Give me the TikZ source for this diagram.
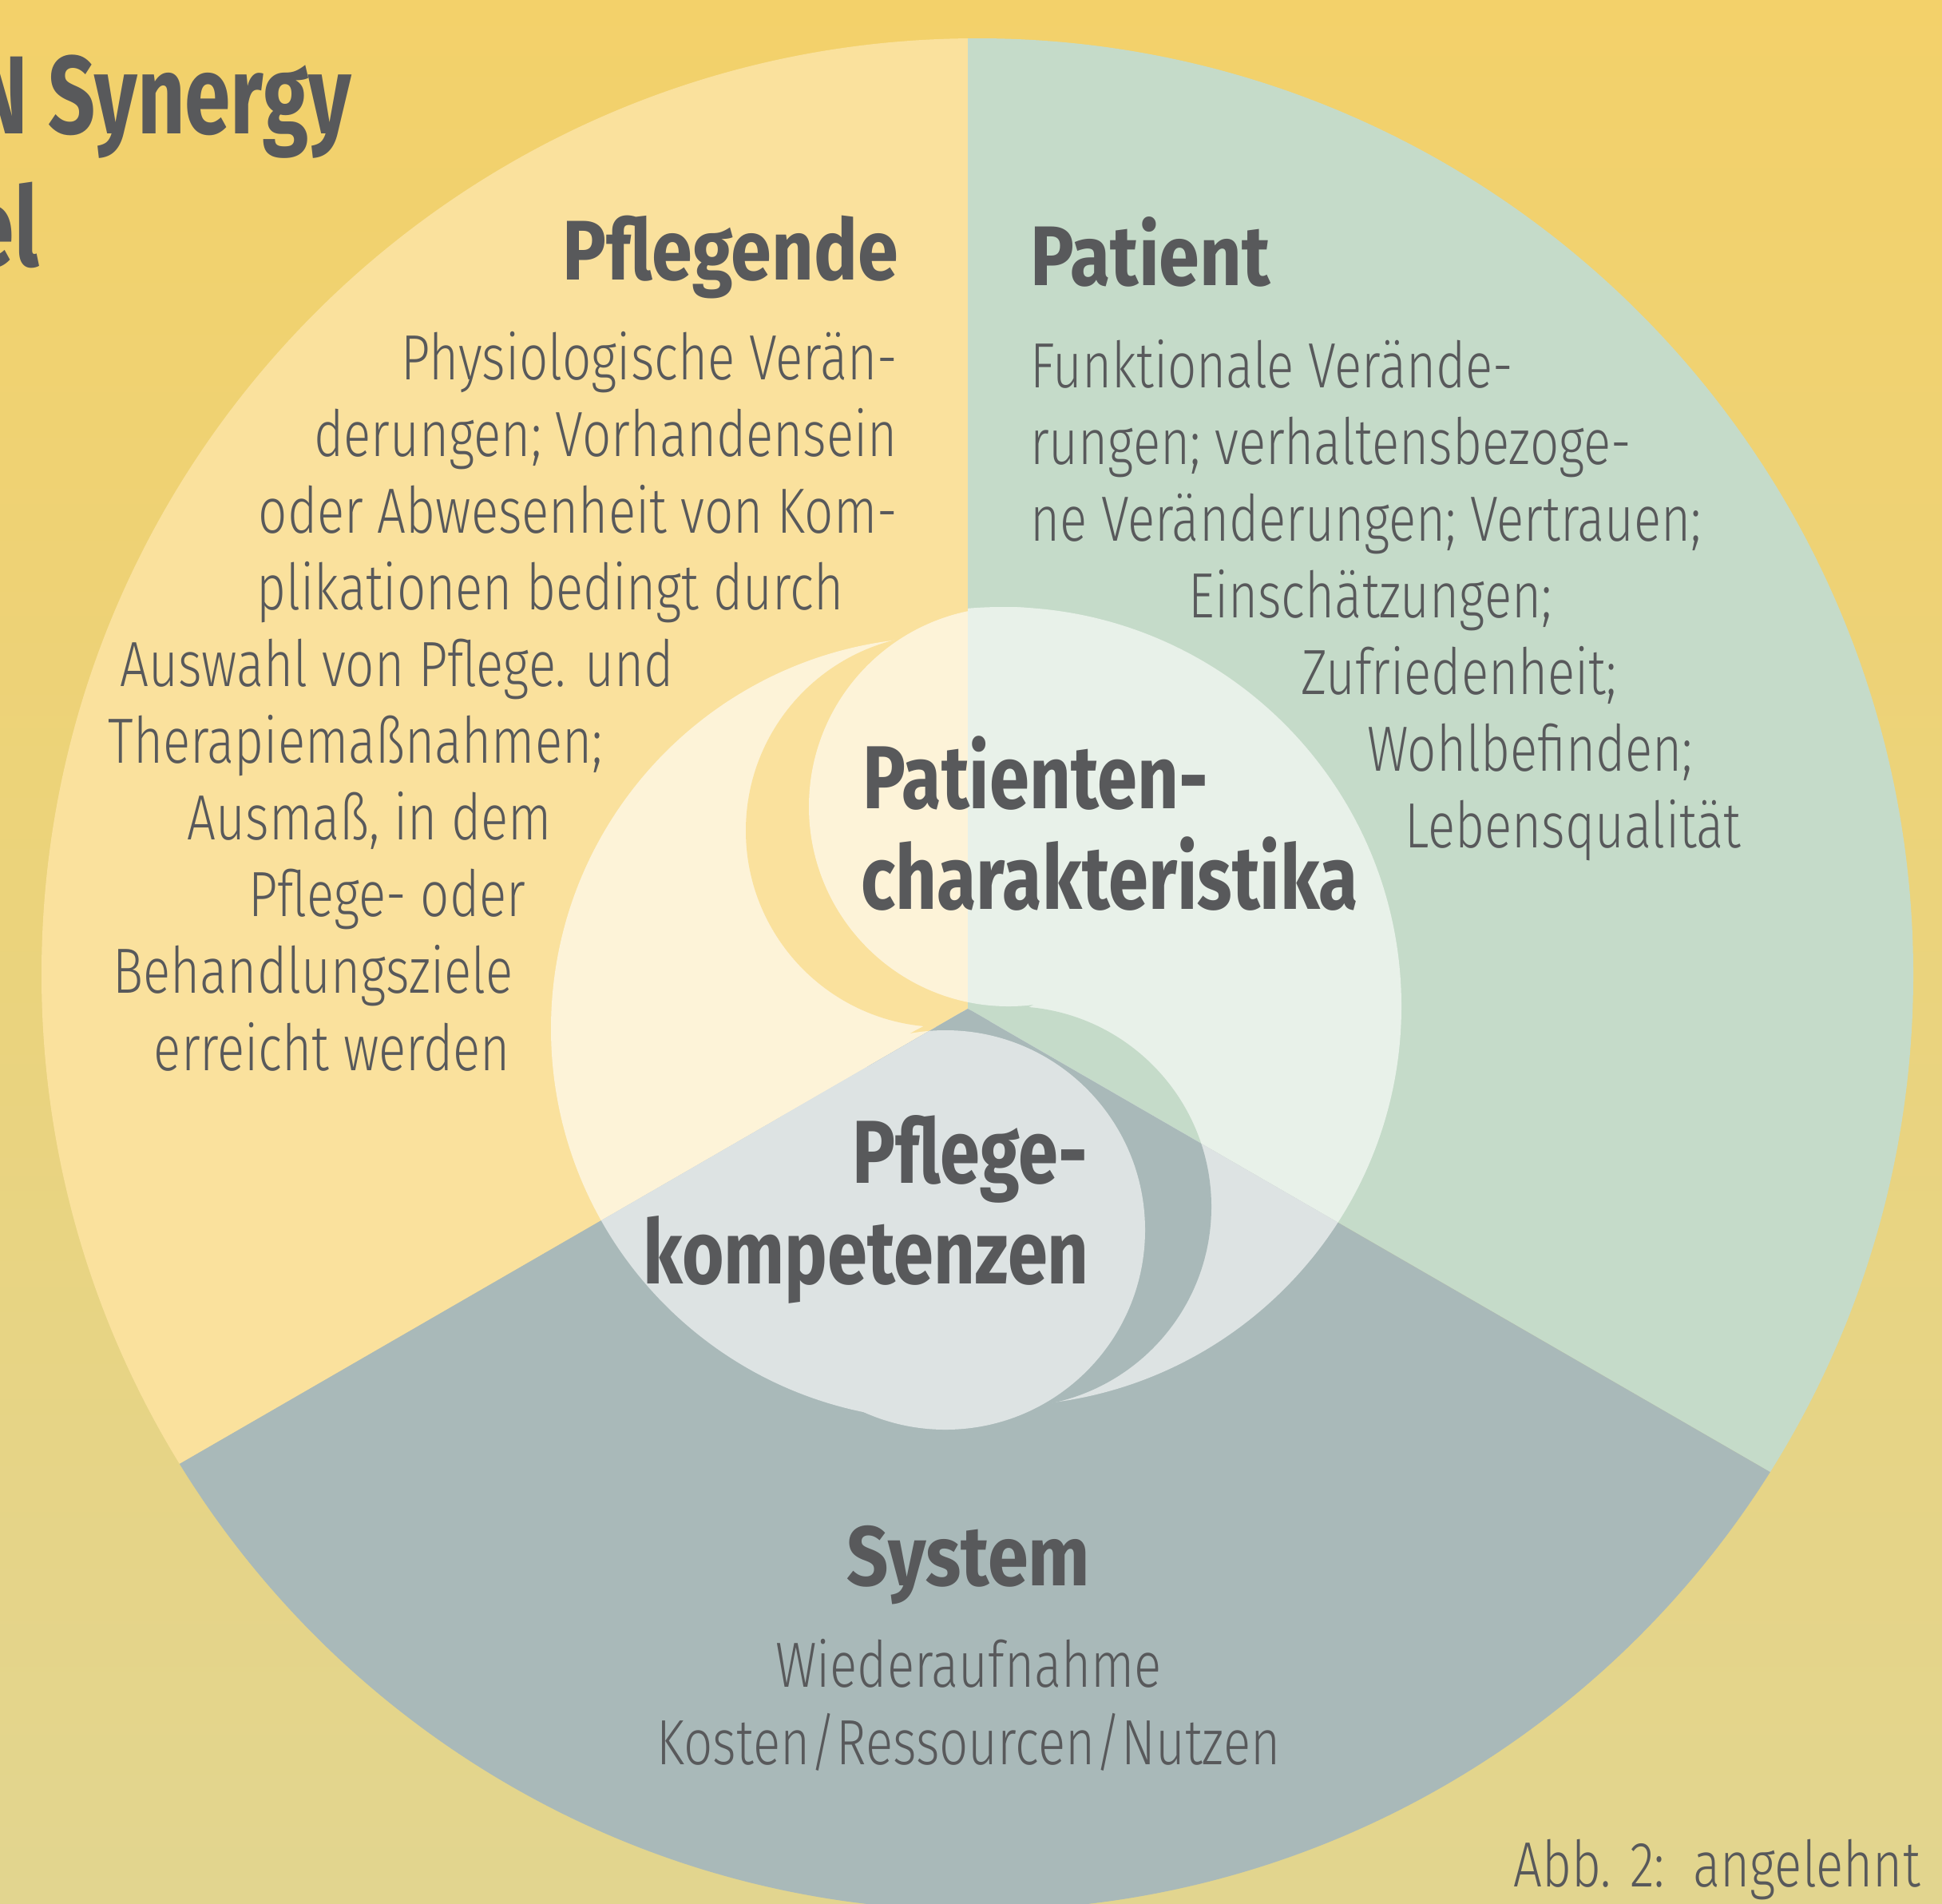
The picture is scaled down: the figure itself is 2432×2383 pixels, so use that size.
\documentclass[tikz,border=0pt]{standalone}
\usepackage{fontspec}
\IfFontExistsTF{Fira Sans Light}
 {\newfontfamily\lightf{Fira Sans Light}[FakeStretch=0.795]}
 {\newfontfamily\lightf{Fira Sans}[FakeStretch=0.795]}
\newfontfamily\boldf{Fira Sans}[FakeStretch=0.805]
\newfontfamily\headf{Fira Sans}[FakeStretch=0.865]
\newfontfamily\titlef{Fira Sans}[FakeStretch=0.745]
\definecolor{bgtop}{HTML}{F3D16A}
\definecolor{bgbot}{HTML}{E2D58F}
\definecolor{secY}{HTML}{FAE19D}
\definecolor{secG}{HTML}{C5DBC9}
\definecolor{secS}{HTML}{A9B9B9}
\definecolor{txt}{HTML}{58595B}
\colorlet{ovY}{secY!40!white}
\colorlet{ovG}{secG!40!white}
\colorlet{ovS}{secS!40!white}
\newcommand\paintoverlay[2]{%
  \begin{scope}\clip (-100,-100) rectangle (1212,3000); \fill[#1] (1180,1288) circle (490pt);\end{scope}
  \begin{scope}\clip (1212,-100) rectangle (3000,3000); \fill[#1] (1255,1260) circle (500pt);\end{scope}
  \fill[#2] (1180,1040) circle (246pt);
  \fill[#2] (1266,1511) circle (251pt);
  \fill[#1] (1263,1010) circle (250pt);
  \fill[#1] (1184,1540) circle (250pt);
}
\tikzset{
  body/.style={font=\lightf\fontsize{80}{96}\selectfont, text=txt, inner sep=0pt, anchor=base},
  head/.style={font=\headf\bfseries\fontsize{106}{120}\selectfont, text=txt, inner sep=0pt, anchor=base},
  core/.style={font=\boldf\bfseries\fontsize{112}{126}\selectfont, text=txt, inner sep=0pt, anchor=base},
  titletext/.style={font=\titlef\bfseries\fontsize{139}{160}\selectfont, text=txt, inner sep=0pt, anchor=base east},
}
\begin{document}
\begin{tikzpicture}[x=1pt,y=-1pt]
\useasboundingbox (0,0) rectangle (2432,2383);
\clip (0,0) rectangle (2432,2383);
\shade[top color=bgtop, bottom color=bgbot] (0,0) rectangle (2432,2383);
% sectors
\begin{scope}
  \clip (1224,1220) circle (1172pt);
  \fill[secY] (1212,1263) -- (1212,-3000) -- (-3000,-3000) -- (-1386,2763) -- cycle;
  \fill[secG] (1212,1263) -- (1212,-3000) -- (5000,-3000) -- (3810,2763) -- cycle;
  \fill[secS] (1212,1263) -- (-1386,2763) -- (3810,2763) -- cycle;
\end{scope}
% overlay per sector
\begin{scope}
  \clip (1212,1263) -- (1212,-3000) -- (-3000,-3000) -- (-1386,2763) -- cycle;
  \paintoverlay{ovY}{secY}
\end{scope}
\begin{scope}
  \clip (1212,1263) -- (1212,-3000) -- (5000,-3000) -- (3810,2763) -- cycle;
  \paintoverlay{ovG}{secG}
\end{scope}
\begin{scope}
  \clip (1212,1263) -- (-1386,2763) -- (3810,2763) -- cycle;
  \paintoverlay{ovS}{secS}
\end{scope}
% title
\node[titletext] (t1) at (440,167) {N Synergy};
\node[titletext] (t2) at (49,333) {el};
% Pflegende
\node[head, anchor=base east] (pfh) at (1125,350) {Pflegende};
\node[body, anchor=base east] (pf1) at (1124,475) {Physiologische Verän-};
\node[body, anchor=base east] (pf2) at (1124,571) {derungen; Vorhandensein};
\node[body, anchor=base east] (pf3) at (1124,667) {oder Abwesenheit von Kom-};
\node[body] (pf4) at (689,763) {plikationen bedingt durch};
\node[body] (pf5) at (497,859) {Auswahl von Pflege. und};
\node[body] (pf6) at (445,955) {Therapiemaßnahmen;};
\node[body] (pf7) at (463,1051) {Ausmaß, in dem};
\node[body] (pf8) at (485,1147) {Pflege- oder};
\node[body] (pf9) at (392,1243) {Behandlungsziele};
\node[body] (pf10) at (416,1340) {erreicht werden};
% Patient
\node[head, anchor=base west] (pah) at (1290,357) {Patient};
\node[body, anchor=base west] (pa1) at (1290,485) {Funktionale Verände-};
\node[body, anchor=base west] (pa2) at (1290,581) {rungen; verhaltensbezoge-};
\node[body, anchor=base west] (pa3) at (1290,677) {ne Veränderungen; Vertrauen;};
\node[body] (pa4) at (1716,773) {Einschätzungen;};
\node[body] (pa5) at (1827,869) {Zufriedenheit;};
\node[body] (pa6) at (1916,965) {Wohlbefinden;};
\node[body] (pa7) at (1970,1061) {Lebensqualität};
% core
\node[core, anchor=base west] (c1) at (1080,1012) {Patienten-};
\node[core, anchor=base west] (c2) at (1078,1138) {charakteristika};
\node[core, anchor=base east] (c3) at (1362,1481) {Pflege-};
\node[core, anchor=base east] (c4) at (1364,1607) {kompetenzen};
% System
\node[head] (sh) at (1213,1985) {System};
\node[body] (s1) at (1213,2112) {Wiederaufnahme};
\node[body] (s2) at (1213,2209) {Kosten/Ressourcen/Nutzen};
% caption
\node[body] (cap) at (2150,2362) {Abb. 2:~~angelehnt};
\end{tikzpicture}
\end{document}
